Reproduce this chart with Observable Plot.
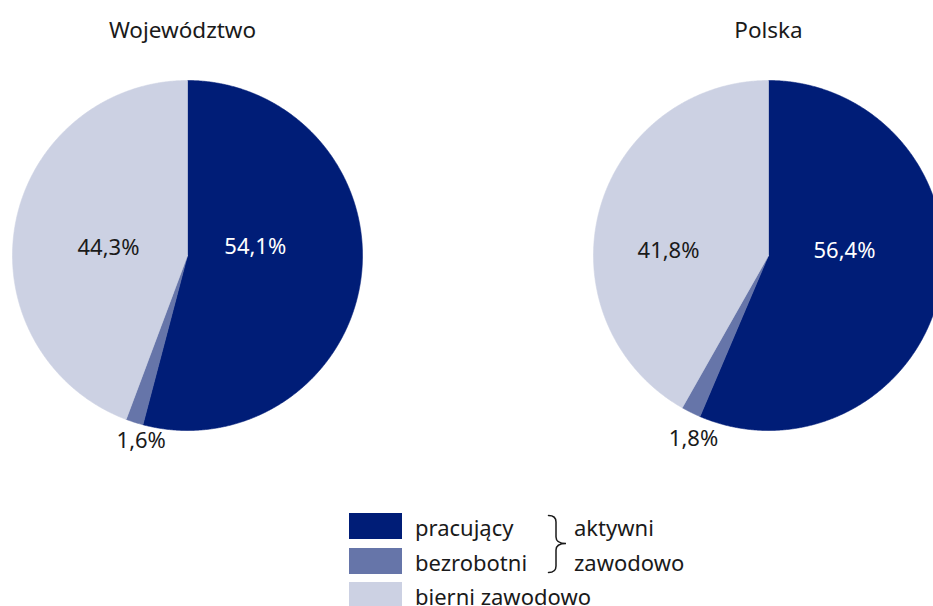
<!DOCTYPE html>
<html lang="pl">
<head>
<meta charset="utf-8">
<script src="https://cdn.jsdelivr.net/npm/d3@7"></script>
<script src="https://cdn.jsdelivr.net/npm/@observablehq/plot@0.6"></script>
<style>
  html, body { margin: 0; padding: 0; background: #fff; overflow: hidden; }
  #wrap { position: relative; width: 933px; height: 606px; font-family: "Noto Sans", sans-serif; color: #1a1a1a; }
  #chart { position: absolute; left: 0; top: 0; }
  .legend { position: absolute; left: 349px; top: 513px; font-size: 22px; }
  .row { position: absolute; left: 0; height: 34px; white-space: nowrap; }
  .sw { position: absolute; left: 0; top: 0; width: 53px; height: 26px; }
  .lt { position: absolute; left: 66px; top: -3px; line-height: 34px; }
  .brace { position: absolute; left: 198px; top: 1px; }
  .grp { position: absolute; left: 225px; line-height: 34px; white-space: nowrap; }
</style>
</head>
<body>
<div id="wrap">
  <div id="chart"></div>
  <div class="legend" id="legend"></div>
</div>
<script>
// ---- data ----
const regions = ["Województwo", "Polska"];
const categories = ["pracujący", "bezrobotni", "bierni zawodowo"];
const wojewodztwo = [54.1, 1.6, 44.3];
const polska = [56.4, 1.8, 41.8];
const groupLabel = ["aktywni", "zawodowo"];

// ---- style / layout ----
const colors = ["#001D77", "#6675A9", "#CCD1E3"];
const W = 933, H = 470;
const R = 175;              // pie radius, px
const cxPx = [187, 768];    // pie centres, px
const cyPx = 255;
const titlePx = 30;
const titleShiftPx = [-5, 0];
// label placement: shift from mid-angle (deg) and radius (in pie radii)
const labelPlace = [
  [{dA: -14.2, r: 0.39}, {dA: -3.6, r: 1.09}, {dA: -4.5, r: 0.454}],
  [{dA: -15.3, r: 0.435}, {dA: -4.0, r: 1.13}, {dA: -11.9, r: 0.572}]
];

const series = [wojewodztwo, polska];
const cx = cxPx.map(p => (p - cxPx[0]) / R);   // centres in radius units

// slice polygons computed from the values
const pts = [];
const labels = [];
series.forEach((vals, i) => {
  let cum = 0;
  vals.forEach((v, j) => {
    const a0 = cum / 100 * 2 * Math.PI;
    const a1 = (cum + v) / 100 * 2 * Math.PI;
    const key = regions[i] + "|" + categories[j];
    pts.push({key, cat: categories[j], x: cx[i], y: 0});
    const n = Math.max(2, Math.ceil((a1 - a0) / 0.005));
    for (let k = 0; k <= n; k++) {
      const a = a0 + (a1 - a0) * k / n;
      pts.push({key, cat: categories[j], x: cx[i] + Math.sin(a), y: Math.cos(a)});
    }
    pts.push({key, cat: categories[j], x: cx[i], y: 0});
    const lp = labelPlace[i][j];
    const am = (a0 + a1) / 2 + lp.dA * Math.PI / 180;
    labels.push({
      x: cx[i] + lp.r * Math.sin(am),
      y: lp.r * Math.cos(am),
      text: v.toFixed(1).replace(".", ",") + "%",
      dark: j === 0
    });
    cum += v;
  });
});

const titles = regions.map((r, i) => ({x: cx[i] + titleShiftPx[i] / R, y: (cyPx - titlePx) / R, text: r}));

const plot = Plot.plot({
  width: W,
  height: H,
  margin: 0,
  x: {domain: [-cxPx[0] / R, (W - cxPx[0]) / R], axis: null},
  y: {domain: [-(H - cyPx) / R, cyPx / R], axis: null},
  color: {domain: categories, range: colors},
  style: {fontFamily: "'Noto Sans', sans-serif", fontSize: "22px", overflow: "visible", background: "transparent"},
  marks: [
    Plot.line(pts, {x: "x", y: "y", z: "key", fill: "cat", stroke: "cat", strokeWidth: 0.6, curve: "linear"}),
    Plot.text(labels.filter(d => d.dark), {x: "x", y: "y", text: "text", fill: "#ffffff", fontSize: 22}),
    Plot.text(labels.filter(d => !d.dark), {x: "x", y: "y", text: "text", fill: "#1a1a1a", fontSize: 22}),
    Plot.text(titles, {x: "x", y: "y", text: "text", fill: "#1a1a1a", fontSize: 22.5})
  ]
});
document.getElementById("chart").appendChild(plot);

// ---- legend ----
const leg = document.getElementById("legend");
const rowPitch = 34.5;
categories.forEach((c, j) => {
  const row = document.createElement("div");
  row.className = "row";
  row.style.top = (j * rowPitch) + "px";
  row.innerHTML = `<div class="sw" style="background:${colors[j]}"></div><div class="lt">${c}</div>`;
  leg.appendChild(row);
});
const brace = document.createElementNS("http://www.w3.org/2000/svg", "svg");
brace.setAttribute("class", "brace");
brace.setAttribute("width", "22");
brace.setAttribute("height", "62");
brace.innerHTML = '<path d="M1.5,1.5 Q9,1.5 9,8 L9,23 Q9,29.5 19,29.5 Q9,29.5 9,36 L9,52 Q9,58.5 1.5,58.5" fill="none" stroke="#1a1a1a" stroke-width="1.5" stroke-linecap="round"/>';
leg.appendChild(brace);
groupLabel.forEach((g, k) => {
  const d = document.createElement("div");
  d.className = "grp";
  d.style.top = (k * rowPitch - 3) + "px";
  d.textContent = g;
  leg.appendChild(d);
});
</script>
</body>
</html>
